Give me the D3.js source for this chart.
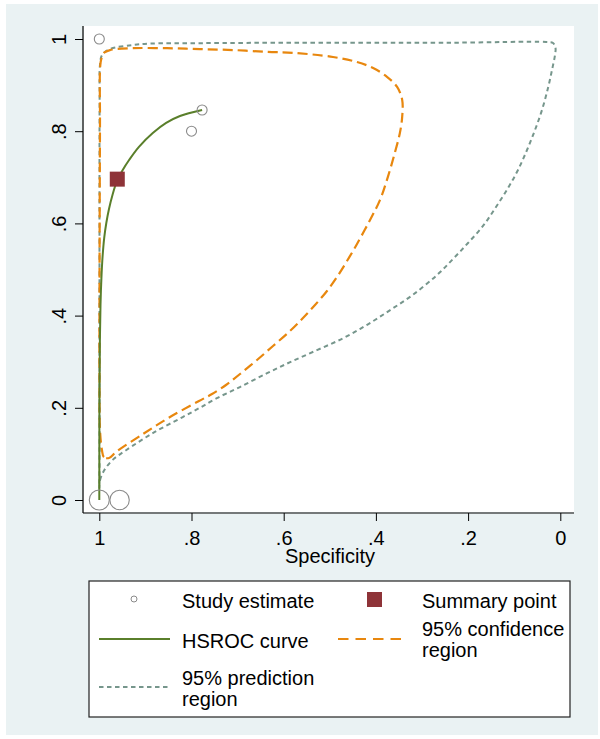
<!DOCTYPE html>
<html>
<head>
<meta charset="utf-8">
<script src="https://cdn.jsdelivr.net/npm/d3@7"></script>
<style>
html,body{margin:0;padding:0;background:#fff;}
svg{display:block;}
text{font-family:"Liberation Sans",Arial,Helvetica,sans-serif;fill:#000;}
</style>
</head>
<body>
<script>
// ---- Data (specificity, sensitivity) ----
const tickValues = [1, 0.8, 0.6, 0.4, 0.2, 0];
const tickLabels = ["1", ".8", ".6", ".4", ".2", "0"];
const xTitle = "Specificity";

// study estimates: specificity, sensitivity, relative weight
const studySpec = [1.0, 0.777, 0.800, 1.0, 0.956];
const studySens = [1.0, 0.846, 0.800, 0.0, 0.0];
const studyWeight = [5, 5, 5, 10, 9.7];

const summarySpec = 0.961;
const summarySens = 0.696;

const hsrocSpec = [0.777, 0.825, 0.855, 0.884, 0.914, 0.935, 0.9492, 0.9616, 0.9714, 0.9790, 0.9848, 0.9894, 0.9928, 0.9954, 0.9974, 0.9987, 0.9996, 0.9999, 1.0];
const hsrocSens = [0.846, 0.833, 0.818, 0.796, 0.766, 0.738, 0.7158, 0.6920, 0.6616, 0.6312, 0.6009, 0.5683, 0.5293, 0.4816, 0.4230, 0.3471, 0.2386, 0.1085, 0.0];

const confSpec = [0.979, 0.990, 0.9942, 0.9985, 0.9996, 0.9996, 0.9991, 0.9985, 0.9985, 0.9963, 0.9898, 0.977, 0.927, 0.853, 0.782, 0.710, 0.636, 0.580, 0.493, 0.441, 0.406, 0.376, 0.354, 0.343, 0.343, 0.348, 0.359, 0.374, 0.391, 0.413, 0.4410, 0.4627, 0.4844, 0.5061, 0.5321, 0.5582, 0.5863, 0.6232, 0.6579, 0.6948, 0.7252, 0.7555, 0.7837, 0.8466, 0.9052, 0.9638];
const confSens = [0.091, 0.093, 0.108, 0.152, 0.260, 0.434, 0.651, 0.825, 0.933, 0.954, 0.970, 0.976, 0.980, 0.980, 0.978, 0.976, 0.972, 0.970, 0.961, 0.950, 0.937, 0.918, 0.896, 0.868, 0.831, 0.796, 0.753, 0.701, 0.651, 0.607, 0.5553, 0.5184, 0.4837, 0.4534, 0.4230, 0.3948, 0.3666, 0.3341, 0.3037, 0.2733, 0.2495, 0.2299, 0.2148, 0.1800, 0.1432, 0.1041];

const predSpec = [1.0, 0.9985, 0.9889, 0.971, 0.942, 0.884, 0.819, 0.782, 0.745, 0.695, 0.636, 0.586, 0.528, 0.471, 0.419, 0.369, 0.320, 0.2675, 0.2328, 0.2002, 0.1677, 0.1395, 0.1134, 0.0918, 0.0722, 0.0549, 0.0397, 0.0267, 0.0180, 0.0115, 0.0104, 0.0158, 0.0310, 0.239, 0.565, 0.782, 0.890, 0.927, 0.977, 0.9942, 0.9985, 0.9993, 0.9996, 0.9996];
const predSens = [0.026, 0.043, 0.065, 0.087, 0.108, 0.145, 0.180, 0.200, 0.221, 0.245, 0.275, 0.299, 0.325, 0.351, 0.380, 0.412, 0.445, 0.488, 0.5228, 0.5575, 0.5944, 0.6356, 0.6768, 0.7158, 0.7592, 0.8026, 0.8460, 0.8937, 0.9328, 0.9653, 0.9805, 0.9913, 0.9935, 0.992, 0.992, 0.991, 0.990, 0.987, 0.978, 0.965, 0.944, 0.868, 0.434, 0.065];

const legendLabels = [["Study estimate"], ["Summary point"], ["HSROC curve"], ["95% confidence", "region"], ["95% prediction", "region"]];

// ---- Styles ----
const C = {
  bg: "#EAF2F3",
  green: "#5A7F2B",
  orange: "#E8870E",
  gray: "#76968C",
  square: "#8E3338",
  circle: "#8A8A8A"
};

const W = 600, H = 739;
const svg = d3.select("body").append("svg").attr("width", W).attr("height", H);

svg.append("rect").attr("x", 0).attr("y", 0).attr("width", W).attr("height", H).attr("fill", "#fff");
svg.append("rect").attr("x", 6).attr("y", 4).attr("width", 592).attr("height", 731).attr("fill", C.bg);

// plot region
const plot = {left: 83, right: 574, top: 26, bottom: 513};
svg.append("rect").attr("x", plot.left + 1).attr("y", plot.top)
  .attr("width", plot.right - plot.left - 1).attr("height", plot.bottom - plot.top - 1)
  .attr("fill", "#fff");

const x = d3.scaleLinear().domain([1, 0]).range([99.3, 560.3]);
const y = d3.scaleLinear().domain([0, 1]).range([500, 39]);

// axes
const xAxis = d3.axisBottom(x).tickValues(tickValues).tickSize(8).tickPadding(5)
  .tickFormat((d, i) => tickLabels[i]);
const gx = svg.append("g").attr("transform", `translate(0,${plot.bottom})`).call(xAxis);
gx.select(".domain").remove();
gx.selectAll(".tick line").attr("stroke", "#000").attr("stroke-width", 1);
gx.selectAll(".tick text").attr("font-size", 20).attr("dy", null).attr("y", 32)
  .style("font-family", '"Liberation Sans",Arial,sans-serif').attr("fill", "#000");
svg.append("line").attr("x1", plot.left).attr("x2", plot.right)
  .attr("y1", plot.bottom).attr("y2", plot.bottom).attr("stroke", "#000").attr("stroke-width", 1.2);

const yAxis = d3.axisLeft(y).tickValues(tickValues).tickSize(8)
  .tickFormat((d, i) => tickLabels[i]);
const gy = svg.append("g").attr("transform", `translate(${plot.left},0)`).call(yAxis);
gy.select(".domain").remove();
gy.selectAll(".tick line").attr("stroke", "#000").attr("stroke-width", 1);
gy.selectAll(".tick text").attr("font-size", 20).attr("x", null).attr("dy", null)
  .attr("text-anchor", "middle")
  .attr("transform", "translate(-17.5,0) rotate(-90)")
  .style("font-family", '"Liberation Sans",Arial,sans-serif').attr("fill", "#000");
svg.append("line").attr("x1", plot.left).attr("x2", plot.left)
  .attr("y1", plot.top).attr("y2", plot.bottom).attr("stroke", "#000").attr("stroke-width", 1.2);

svg.append("text").attr("x", 330).attr("y", 563).attr("text-anchor", "middle")
  .attr("font-size", 20).text(xTitle);

// curves
const toPts = (sx, sy) => sx.map((s, i) => [x(s), y(sy[i])]);
const closedLine = d3.line().curve(d3.curveCatmullRomClosed.alpha(0.5));
const openLine = d3.line().curve(d3.curveCatmullRom.alpha(0.5));

svg.append("path").attr("d", closedLine(toPts(predSpec, predSens)))
  .attr("fill", "none").attr("stroke", C.gray).attr("stroke-width", 2)
  .attr("stroke-dasharray", "4.5,3.5");
svg.append("path").attr("d", closedLine(toPts(confSpec, confSens)))
  .attr("fill", "none").attr("stroke", C.orange).attr("stroke-width", 2.2)
  .attr("stroke-dasharray", "10,5");
svg.append("path").attr("d", openLine(toPts(hsrocSpec, hsrocSens)))
  .attr("fill", "none").attr("stroke", C.green).attr("stroke-width", 2);

// study estimates
svg.selectAll("circle.study").data(studySpec).enter().append("circle")
  .attr("class", "study")
  .attr("cx", d => x(d)).attr("cy", (d, i) => y(studySens[i]))
  .attr("r", (d, i) => studyWeight[i])
  .attr("fill", "none").attr("stroke", C.circle).attr("stroke-width", 1.1);

// summary point
svg.append("rect").attr("x", x(summarySpec) - 7.5).attr("y", y(summarySens) - 7.5)
  .attr("width", 15).attr("height", 15).attr("fill", C.square);

// legend
const lg = svg.append("g");
lg.append("rect").attr("x", 89).attr("y", 581).attr("width", 481).attr("height", 136)
  .attr("fill", "#fff").attr("stroke", "#222").attr("stroke-width", 1.2);

lg.append("circle").attr("cx", 134).attr("cy", 599).attr("r", 3)
  .attr("fill", "none").attr("stroke", C.circle).attr("stroke-width", 1);
lg.append("rect").attr("x", 367).attr("y", 592).attr("width", 15).attr("height", 15).attr("fill", C.square);
lg.append("line").attr("x1", 99).attr("x2", 170).attr("y1", 639).attr("y2", 639)
  .attr("stroke", C.green).attr("stroke-width", 2);
lg.append("line").attr("x1", 338).attr("x2", 404).attr("y1", 639).attr("y2", 639)
  .attr("stroke", C.orange).attr("stroke-width", 2.2).attr("stroke-dasharray", "10.5,7");
lg.append("line").attr("x1", 99).attr("x2", 170).attr("y1", 687).attr("y2", 687)
  .attr("stroke", C.gray).attr("stroke-width", 2).attr("stroke-dasharray", "4.5,3.5");

const legendPos = [[182, 608], [422, 608], [182, 648], [422, 636], [182, 685]];
legendLabels.forEach((lines, i) => {
  const t = lg.append("text").attr("x", legendPos[i][0]).attr("y", legendPos[i][1]).attr("font-size", 20);
  lines.forEach((l, j) => {
    t.append("tspan").attr("x", legendPos[i][0]).attr("dy", j === 0 ? 0 : 20.5).text(l);
  });
});
</script>
</body>
</html>
